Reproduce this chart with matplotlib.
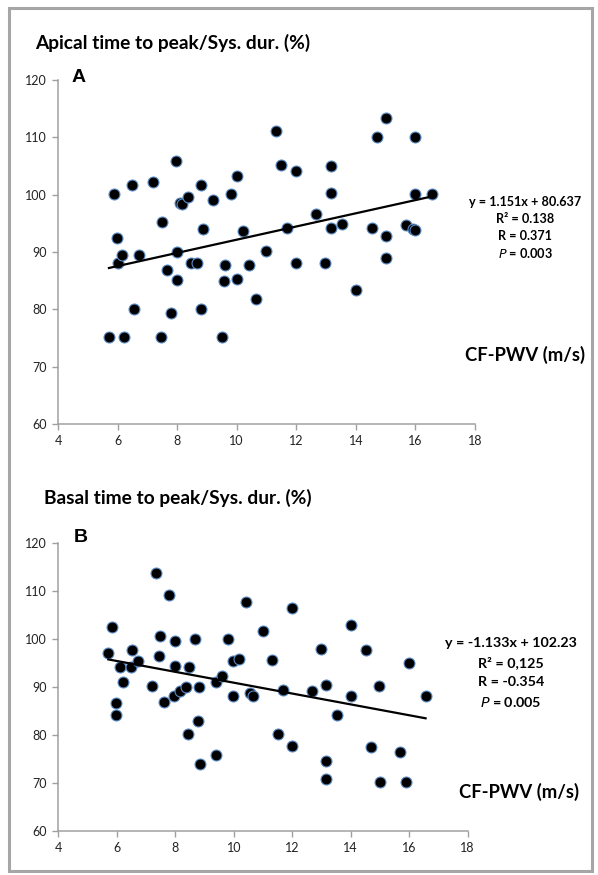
import numpy as np
import matplotlib
matplotlib.use("Agg")
import matplotlib.pyplot as plt
from matplotlib.patches import Rectangle

plt.rcParams['font.family'] = ['Lato', 'DejaVu Sans']

# panel A: CF-PWV (m/s) vs apical time to peak / systolic duration (%)
apical_x = [5.71, 5.87, 5.99, 6.0, 6.14, 6.22, 6.5, 6.54, 6.73, 7.2, 7.46, 7.49, 7.66, 7.79,
            7.96, 7.99, 7.99, 8.09, 8.17, 8.37, 8.45, 8.67, 8.79, 8.81, 8.86, 9.22, 9.49, 9.58,
            9.6, 9.8, 10.0, 10.0, 10.2, 10.4, 10.64, 10.98, 11.32, 11.48, 11.7, 11.99, 11.99,
            12.66, 12.98, 13.15, 13.15, 13.16, 13.54, 14.0, 14.54, 14.71, 15.0, 15.0, 15.0,
            15.7, 15.92, 16.0, 15.99, 15.99, 16.56]
apical_y = [75.1, 100.1, 92.5, 88.1, 89.5, 75.1, 101.6, 80.1, 89.4, 102.2, 75.1, 95.2, 86.8, 79.4,
            105.9, 90.0, 85.1, 98.6, 98.3, 99.6, 88.1, 88.1, 101.6, 80.1, 94.0, 99.0, 75.1, 84.9,
            87.7, 100.1, 85.3, 103.2, 93.6, 87.7, 81.8, 90.2, 111.1, 105.2, 94.1, 104.1, 88.1,
            96.7, 88.1, 105.0, 100.3, 94.1, 94.8, 83.3, 94.1, 110.05, 113.3, 92.8, 88.9,
            94.7, 94.05, 93.9, 110.05, 100.1, 100.1]
apical_fit = (1.151, 80.637)
apical_stats = ["y = 1.151x + 80.637", "R² = 0.138", "R = 0.371", "$\\mathit{P}$ = 0.003"]

# panel B: CF-PWV (m/s) vs basal time to peak / systolic duration (%)
basal_x = [5.71, 5.85, 5.97, 5.97, 6.11, 6.22, 6.49, 6.52, 6.74, 7.19, 7.34, 7.44, 7.49, 7.63,
           7.78, 7.96, 7.98, 7.99, 8.15, 8.36, 8.45, 8.47, 8.66, 8.79, 8.81, 8.85, 9.38, 9.38,
           9.59, 9.79, 9.96, 9.99, 10.19, 10.41, 10.56, 10.65, 10.99, 11.31, 11.5, 11.69, 11.98,
           11.98, 12.67, 12.99, 13.14, 13.14, 13.14, 13.53, 14.0, 14.0, 14.52, 14.7, 14.98,
           15.7, 15.9, 15.99, 16.56, 14.99]
basal_y = [97.0, 102.6, 86.7, 84.2, 94.1, 91.1, 94.1, 97.8, 95.5, 90.2, 113.7, 96.5, 100.7, 86.8,
           109.3, 88.05, 99.65, 94.3, 89.1, 90.0, 80.1, 94.1, 100.06, 82.8, 90.0, 74.0, 91.1, 75.7,
           92.4, 100.06, 95.5, 88.1, 95.8, 107.7, 88.75, 88.05, 101.7, 95.7, 80.1, 89.4, 106.5,
           77.6, 89.2, 98.0, 90.4, 74.6, 70.8, 84.2, 103.0, 88.05, 97.8, 77.4, 90.2,
           76.5, 70.1, 95.05, 88.05, 70.1]
basal_fit = (-1.133, 102.23)
basal_stats = ["y = -1.133x + 102.23", "R² = 0,125", "R = -0.354", "$\\mathit{P}$ = 0.005"]

x_ticks = [4, 6, 8, 10, 12, 14, 16, 18]
y_ticks = [60, 70, 80, 90, 100, 110, 120]

W, H = 598, 875
fig = plt.figure(figsize=(W / 100, H / 100), dpi=100)


def fx(px):
    return px / W


def fy(py):
    return 1 - py / H


# grey frame round the whole figure
fig.patches.append(Rectangle((fx(9), fy(871)), fx(583), 863 / H, transform=fig.transFigure,
                             fill=False, edgecolor="#a6a6a6", linewidth=2.2))

grey = "#a0a0a0"


def panel(rect, xs, ys, fit, stats, title, letter, title_xy, letter_xy, stats_xy, step, sfs, cf_xy):
    ax = fig.add_axes(rect)
    ax.scatter(xs, ys, s=62, c="black", edgecolors="#5b8dc8", linewidths=0.8, zorder=3)
    line_x = np.array([min(xs), max(xs)])
    ax.plot(line_x, fit[0] * line_x + fit[1], color="black", lw=1.6, zorder=4)
    ax.set_xlim(4, 18); ax.set_ylim(60, 120)
    ax.set_xticks(x_ticks); ax.set_yticks(y_ticks)
    for s in ["top", "right"]:
        ax.spines[s].set_visible(False)
    for s in ["left", "bottom"]:
        ax.spines[s].set_color(grey); ax.spines[s].set_linewidth(1.1)
    ax.tick_params(direction="out", length=4, width=1, color=grey, labelsize=9,
                   labelcolor="#222222", pad=4)
    fig.text(fx(title_xy[0]), fy(title_xy[1]), title, fontsize=13.8, fontweight="bold",
             va="center", ha="left")
    fig.text(fx(letter_xy[0]), fy(letter_xy[1]), letter, fontsize=14, fontweight="bold",
             family="Liberation Sans", va="center", ha="left")
    for i, s in enumerate(stats):
        fig.text(fx(stats_xy[0]), fy(stats_xy[1] + i * step), s, fontsize=sfs,
                 fontweight="bold", ha="center", va="center")
    fig.text(fx(cf_xy[0]), fy(cf_xy[1]), "CF-PWV (m/s)", fontsize=13.3, fontweight="bold",
             ha="left", va="center")
    return ax


panel([fx(58), fy(424), fx(475) - fx(58), (424 - 80) / H], apical_x, apical_y, apical_fit,
      apical_stats, "Apical time to peak/Sys. dur. (%)", "A", (35, 43), (72, 78),
      (525, 202), 17, 9.1, (465, 355))
panel([fx(58.3), fy(830.7), fx(467.7) - fx(58.3), (830.7 - 543.3) / H], basal_x, basal_y,
      basal_fit, basal_stats, "Basal time to peak/Sys. dur. (%)", "B", (44, 498), (74, 537),
      (511, 643), 19.7, 10.3, (459, 792))

fig.savefig("out.png", dpi=100)
